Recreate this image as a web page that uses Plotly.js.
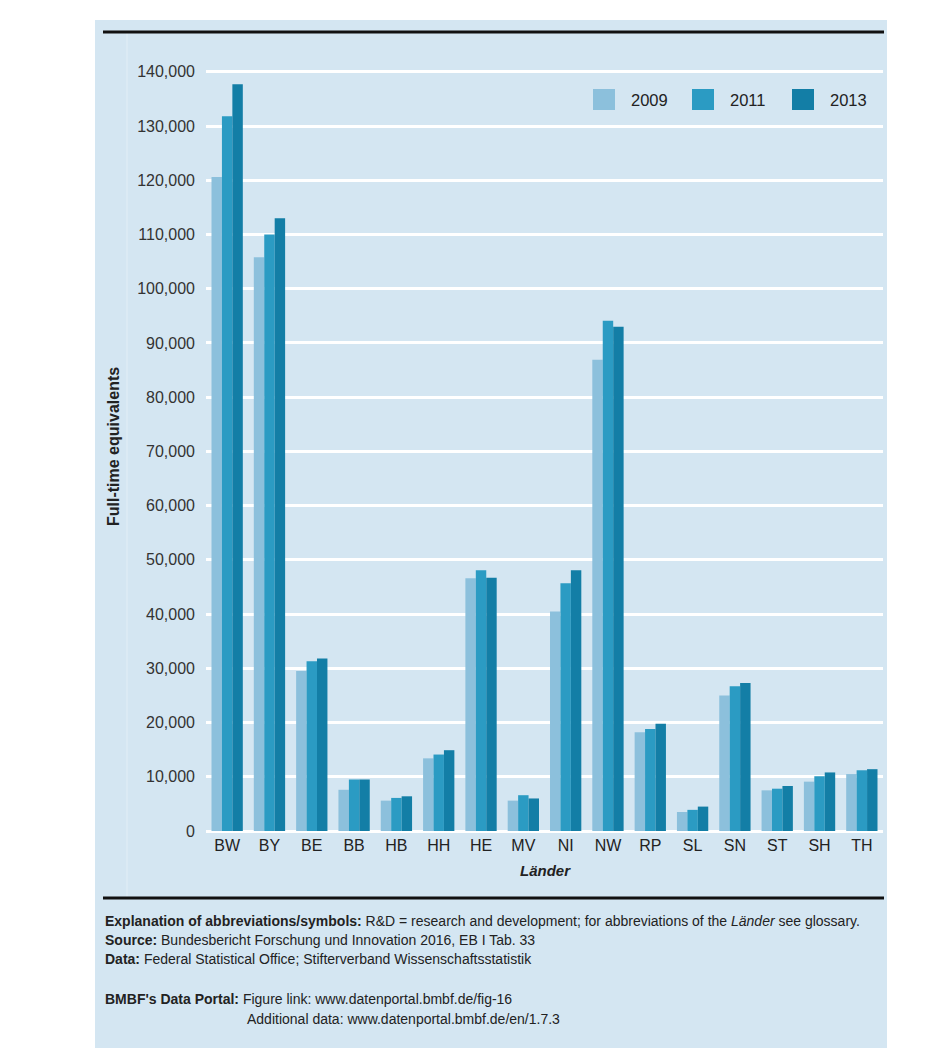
<!DOCTYPE html>
<html>
<head>
<meta charset="utf-8">
<script src="https://cdn.plot.ly/plotly-3.0.1.min.js"></script>
<style>html,body{margin:0;padding:0;background:#fff;}#chart{width:936px;height:1056px;}</style>
</head>
<body>
<div id="chart"></div>
<script>
// ---- data ----
const laender = ["BW","BY","BE","BB","HB","HH","HE","MV","NI","NW","RP","SL","SN","ST","SH","TH"];
const years = ["2009","2011","2013"];
const fte2009 = [120600,105800,29500,7600,5600,13400,46600,5600,40500,86900,18200,3500,25000,7500,9100,10500];
const fte2011 = [131800,110000,31300,9500,6100,14100,48100,6600,45700,94100,18800,3900,26700,7800,10100,11200];
const fte2013 = [137700,113000,31800,9500,6400,14900,46700,6000,48100,93000,19800,4500,27300,8300,10800,11400];
const yTickVals = [0,10000,20000,30000,40000,50000,60000,70000,80000,90000,100000,110000,120000,130000,140000];
const yTickText = ["0","10,000","20,000","30,000","40,000","50,000","60,000","70,000","80,000","90,000","100,000","110,000","120,000","130,000","140,000"];
const yTitle = "Full-time equivalents";
const xTitle = "Länder";
const footer1 = "<b>Explanation of abbreviations/symbols:</b> R&amp;D = research and development; for abbreviations of the <i>Länder</i> see glossary.";
const footer2 = "<b>Source:</b> Bundesbericht Forschung und Innovation 2016, EB I Tab. 33";
const footer3 = "<b>Data:</b> Federal Statistical Office; Stifterverband Wissenschaftsstatistik";
const footer4 = "<b>BMBF's Data Portal:</b> Figure link: www.datenportal.bmbf.de/fig-16";
const footer5 = "Additional data: www.datenportal.bmbf.de/en/1.7.3";

// ---- styling ----
const colors = ["#8cc0dc","#2b9bc3","#137ea6"];
const FONT = "Liberation Sans, Arial, sans-serif";
const TXT = "#222";
const L = 206, R = 883, T = 61, B = 831;
const W = 936, H = 1056;
const px = v => (v - L) / (R - L);
const py = v => (B - v) / (B - T);

const series = [fte2009, fte2011, fte2013];
const traces = series.map((vals, i) => ({
  type: "bar",
  name: years[i],
  x: laender,
  y: vals,
  marker: {color: colors[i], line: {width: 0}},
  hoverinfo: "x+y+name"
}));

const shapes = [
  {type:"rect", xref:"paper", yref:"paper", x0:px(95), x1:px(887), y0:py(20), y1:py(1048),
   fillcolor:"#d4e6f2", line:{width:0}, layer:"below"},
  {type:"line", xref:"paper", yref:"paper", x0:px(127), x1:px(127), y0:py(33), y1:py(897),
   line:{color:"#e2eef6", width:1}, layer:"below"},
  {type:"line", xref:"paper", yref:"paper", x0:px(103), x1:px(884), y0:py(32), y1:py(32),
   line:{color:"#111", width:3}},
  {type:"line", xref:"paper", yref:"paper", x0:px(103), x1:px(884), y0:py(898), y1:py(898),
   line:{color:"#111", width:3}}
];

// manual legend
const legX = [593, 692, 792];
const annotations = [];
years.forEach((yr, i) => {
  shapes.push({type:"rect", xref:"paper", yref:"paper", x0:px(legX[i]), x1:px(legX[i]+22),
    y0:py(110), y1:py(89), fillcolor:colors[i], line:{width:0}});
  annotations.push({xref:"paper", yref:"paper", x:px(legX[i]+36), y:py(99.5), xanchor:"left", yanchor:"middle",
    text:yr, showarrow:false, font:{family:FONT, size:16.5, color:TXT}});
});

annotations.push(
  {xref:"paper", yref:"paper", x:px(113), y:py(447), text:"<b>"+yTitle+"</b>", textangle:-90,
   showarrow:false, xanchor:"center", yanchor:"middle", font:{family:FONT, size:16, color:TXT}},
  {xref:"paper", yref:"paper", x:px(545), y:py(870), text:"<b><i>"+xTitle+"</i></b>",
   showarrow:false, xanchor:"center", yanchor:"middle", font:{family:FONT, size:15, color:TXT}}
);
const footers = [[footer1,103,921],[footer2,103,940],[footer3,103,959],[footer4,103,999],[footer5,245,1019]];
footers.forEach(f => annotations.push({xref:"paper", yref:"paper", x:px(f[1]), y:py(f[2]), text:f[0],
  showarrow:false, xanchor:"left", yanchor:"middle", align:"left", font:{family:FONT, size:14, color:TXT}}));

const layout = {
  width: W, height: H,
  margin: {l:L, r:W-R, t:T, b:H-B, pad:0},
  paper_bgcolor: "#ffffff",
  plot_bgcolor: "rgba(0,0,0,0)",
  barmode: "group",
  bargap: 0.26,
  bargroupgap: 0,
  showlegend: false,
  font: {family: FONT, color: TXT},
  xaxis: {
    type: "category", range: [-0.5, 15.5], showgrid: false, zeroline: false, showline: false,
    ticks: "", tickfont: {family: FONT, size: 16, color: TXT}, ticklabelstandoff: 3, fixedrange: true
  },
  yaxis: {
    range: [0, 142000], tickvals: yTickVals, ticktext: yTickText,
    showgrid: true, gridcolor: "#ffffff", gridwidth: 3,
    zeroline: true, zerolinecolor: "#ffffff", zerolinewidth: 3, showline: false,
    ticks: "", tickfont: {family: FONT, size: 16, color: "#333"}, ticklabelstandoff: 10, fixedrange: true
  },
  shapes: shapes,
  annotations: annotations
};

Plotly.newPlot("chart", traces, layout, {displayModeBar:false, staticPlot:true});
</script>
</body>
</html>
